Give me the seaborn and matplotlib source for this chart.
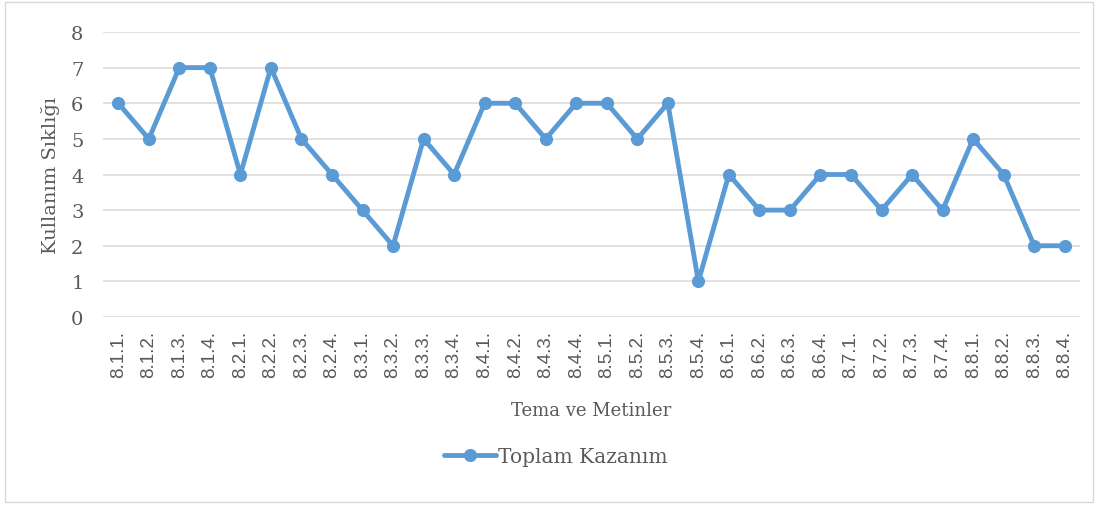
import pandas as pd
import matplotlib
matplotlib.use('Agg')
import matplotlib.pyplot as plt
import seaborn as sns
from matplotlib.patches import Rectangle

# veriler
kodlar = ['8.1.1.', '8.1.2.', '8.1.3.', '8.1.4.',
          '8.2.1.', '8.2.2.', '8.2.3.', '8.2.4.',
          '8.3.1.', '8.3.2.', '8.3.3.', '8.3.4.',
          '8.4.1.', '8.4.2.', '8.4.3.', '8.4.4.',
          '8.5.1.', '8.5.2.', '8.5.3.', '8.5.4.',
          '8.6.1.', '8.6.2.', '8.6.3.', '8.6.4.',
          '8.7.1.', '8.7.2.', '8.7.3.', '8.7.4.',
          '8.8.1.', '8.8.2.', '8.8.3.', '8.8.4.']
toplam = [6, 5, 7, 7, 4, 7, 5, 4, 3, 2, 5, 4, 6, 6, 5, 6,
          6, 5, 6, 1, 4, 3, 3, 4, 4, 3, 4, 3, 5, 4, 2, 2]
y_ticks = [0, 1, 2, 3, 4, 5, 6, 7, 8]

df = pd.DataFrame({'Kod': kodlar, 'Toplam Kazanım': toplam})

sns.set_style('white')
plt.rcParams['font.family'] = ['DejaVu Serif']

renk = '#5B9BD5'
yazi = '#595959'

fig = plt.figure(figsize=(10.99, 5.06), dpi=100)
ax = fig.add_axes([103 / 1099, 1 - 318 / 506, 977 / 1099, 285 / 506])

sns.lineplot(data=df, x='Kod', y='Toplam Kazanım', ax=ax, sort=False,
             color=renk, linewidth=3.5, marker='o', markersize=9.5,
             markeredgewidth=0, label='Toplam Kazanım')

ax.set_xlim(-0.5, len(kodlar) - 0.5)
ax.set_ylim(0, 8)
ax.set_yticks(y_ticks)
ax.grid(axis='y', color='#D9D9D9', linewidth=1.1)
ax.set_axisbelow(True)
for s in ax.spines.values():
    s.set_visible(False)

ax.tick_params(axis='y', length=0, pad=14, labelsize=14, labelcolor=yazi)
ax.tick_params(axis='x', length=0, pad=9, labelsize=13.5, labelcolor=yazi)
for t in ax.get_xticklabels():
    t.set_rotation(90)
    t.set_family('Liberation Sans')

ax.set_ylabel('Kullanım Sıklığı', fontsize=14, color=yazi, labelpad=8)
ax.set_xlabel('Tema ve Metinler', fontsize=13, color=yazi)
ax.xaxis.set_label_coords(0.5, -84 / 285)

ax.get_legend().remove()
h, l = ax.get_legend_handles_labels()
fig.legend(h, l, loc='center', bbox_to_anchor=(556 / 1099, 1 - 458 / 506),
           frameon=False, fontsize=14.5, handlelength=2.6, handletextpad=0.1,
           labelcolor=yazi)

fig.patches.append(Rectangle((5 / 1099, 3 / 506), 1088 / 1099, 500 / 506,
                             transform=fig.transFigure, fill=False,
                             edgecolor='#D9D9D9', linewidth=1))

fig.savefig('out.png', dpi=100)
